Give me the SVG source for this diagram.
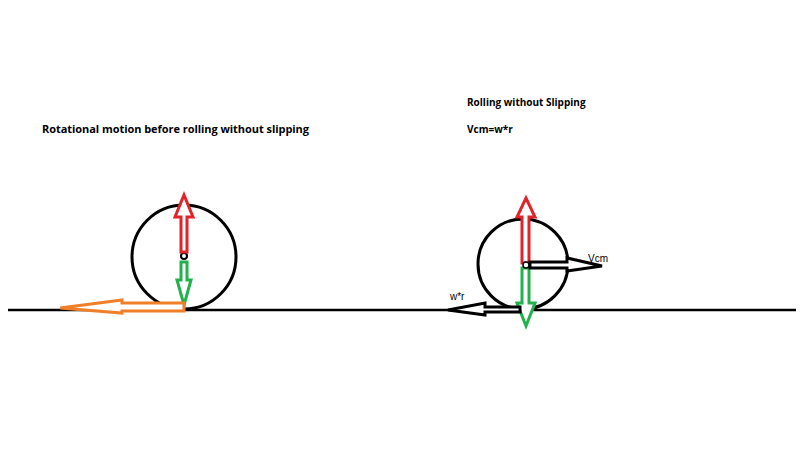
<svg xmlns="http://www.w3.org/2000/svg" width="800" height="450" viewBox="0 0 800 450">
<style>
.t{font-family:"Open Sans","Liberation Sans",sans-serif;font-weight:bold;fill:#000}
.c{fill:none;stroke:#000;stroke-width:3}
.a{fill:#fff;stroke-width:3;stroke-linejoin:miter}
</style>
<rect width="800" height="450" fill="#fff"/>
<g id="labels">
<text class="t" x="42" y="133" font-size="11" textLength="267">Rotational motion before rolling without slipping</text>
<text class="t" x="467" y="106" font-size="10">Rolling without Slipping</text>
<text class="t" x="467" y="133" font-size="10">Vcm=w*r</text>
<text x="588" y="262" font-size="10" font-family="Liberation Sans,sans-serif">Vcm</text>
<text x="450" y="300" font-size="10" font-family="Liberation Sans,sans-serif">w*r</text>
</g>
<g id="ground"><line x1="8" y1="310" x2="796" y2="310" stroke="#000" stroke-width="2.5"/></g>
<g id="wheel1">
<circle class="c" cx="184" cy="257" r="52"/>
<circle cx="184" cy="256" r="3" fill="#fff" stroke="#000" stroke-width="2"/>
</g>
<g id="wheel2">
<circle class="c" cx="523" cy="264" r="45"/>
</g>
<g id="connectors">
<path class="a" stroke="#e0242a" d="M181,252 V217 H175 L184,195 L193,217 H187 V252 Z"/>
<path class="a" stroke="#22b14c" d="M181,262 V280 H177 L184,305 L191,280 H187 V262 Z"/>
<path class="a" stroke="#f07f2a" d="M184,303 H122 V300 L60,308 L122,313 V311 H184 Z"/>
<path class="a" stroke="#e0242a" d="M522,263 V217 H517 L526,198 L535,217 H529 V263 Z"/>
<path class="a" stroke="#22b14c" d="M522,268 V303 H517 L526,326 L535,303 H529 V268 Z"/>
<path class="a" stroke="#000" stroke-width="2" d="M530,262 H567 V258 L602,266 L567,271 V268 H530 Z"/>
<path class="a" stroke="#000" stroke-width="2" d="M520,307 H485 V303 L448,310 L485,315 V312 H520 Z"/>
<circle cx="526" cy="265" r="3" fill="#fff" stroke="#000" stroke-width="1.5"/>
</g>
</svg>
